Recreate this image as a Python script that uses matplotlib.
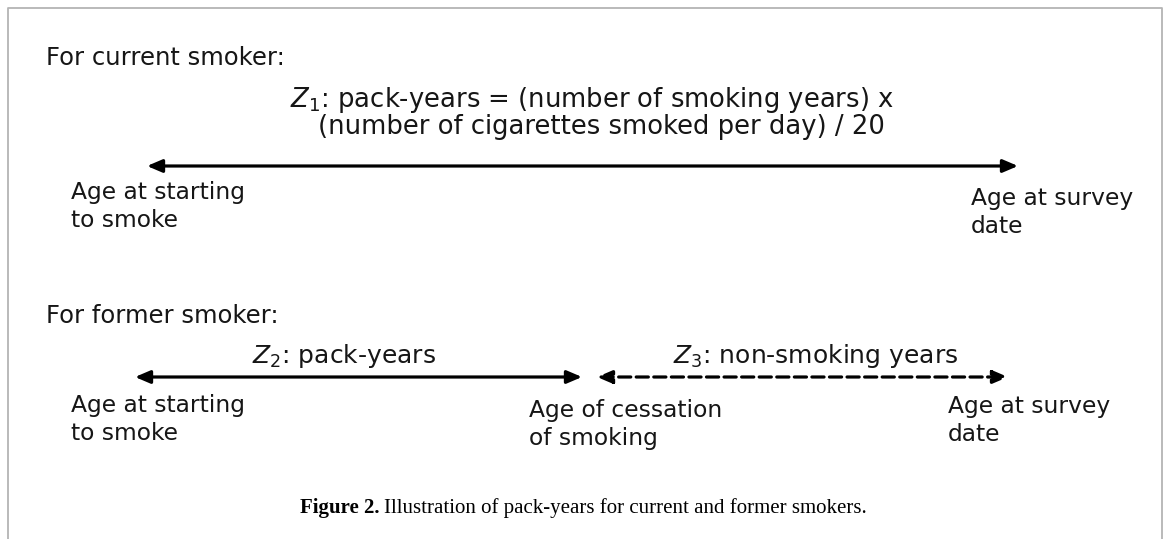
import matplotlib.pyplot as plt
from matplotlib.patches import FancyArrowPatch

# Text labels of the diagram
head_current = "For current smoker:"
head_former = "For former smoker:"
z1_lines = [r"$Z_1$: pack-years = (number of smoking years) x",
            "(number of cigarettes smoked per day) / 20"]
z2_label = r"$Z_2$: pack-years"
z3_label = r"$Z_3$: non-smoking years"
start_label = ["Age at starting", "to smoke"]
survey_label = ["Age at survey", "date"]
cessation_label = ["Age of cessation", "of smoking"]
caption_bold = "Figure 2."
caption_rest = "Illustration of pack-years for current and former smokers."

W, H = 1168, 539
fig = plt.figure(figsize=(W / 100, H / 100), dpi=100)
ax = fig.add_axes([0, 0, 1, 1])
ax.set_xlim(0, W)
ax.set_ylim(H, 0)
ax.axis("off")

# frame (top, left, right)
ax.plot([8, 8, 1162, 1162], [H, 8, 8, H], color="#b4b4b4", lw=1.3)

def txt(x, y, s, fs=17.5):
    ax.text(x, y, s, va="baseline", family="DejaVu Sans", fontsize=fs, color="#161616")

def two_lines(x, y, lines, fs=16.8):
    txt(x, y, lines[0], fs)
    txt(x, y + 28, lines[1], fs)

def arrow(x0, x1, y, ls="-"):
    p = FancyArrowPatch((x0, y), (x1, y), arrowstyle="<|-|>,head_length=0.75,head_width=0.32",
                        mutation_scale=12, lw=2.3, color="black", linestyle=ls,
                        shrinkA=0, shrinkB=0)
    ax.add_patch(p)

# current smoker
txt(46, 65, head_current)
txt(290, 107, z1_lines[0], 18.6)
txt(318, 134, z1_lines[1], 18.6)
arrow(147, 1018, 166)
two_lines(71, 199, start_label)
two_lines(971, 205, survey_label)

# former smoker
txt(46, 323, head_former)
txt(252, 363, z2_label, 18)
txt(673, 363, z3_label, 18)
arrow(135, 582, 377)
arrow(597, 1008, 377, ls=(0, (3.8, 1.7)))
two_lines(71, 412, start_label)
two_lines(529, 417, cessation_label)
two_lines(948, 413, survey_label)

# caption: bold part then regular part
cap = ax.text(300, 513, caption_bold, va="baseline", family="Liberation Serif",
              fontsize=15, fontweight="bold", color="black")
fig.canvas.draw()
bb = cap.get_window_extent()
x_next = ax.transData.inverted().transform((bb.x1, 0))[0] + 5
ax.text(x_next, 513, caption_rest, va="baseline", family="Liberation Serif",
        fontsize=15, color="black")

fig.savefig("out.png", dpi=100)
